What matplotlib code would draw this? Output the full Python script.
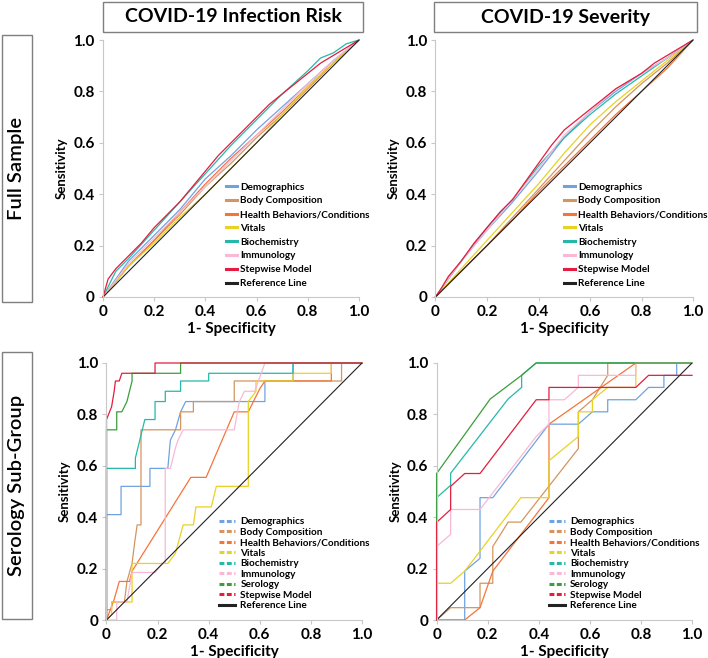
import matplotlib
matplotlib.use("Agg")
import matplotlib.pyplot as plt
from matplotlib.lines import Line2D
from matplotlib.patches import Rectangle

plt.rcParams['font.family'] = ['Lato', 'DejaVu Sans']

colors = {"Demographics": "#6fa3e0", "Body Composition": "#d4955e",
          "Health Behaviors/Conditions": "#f5743a", "Vitals": "#e8d224",
          "Biochemistry": "#25b8a8", "Immunology": "#f9b8d6", "Serology": "#3a9e3a",
          "Stepwise Model": "#e51c3f", "Reference Line": "#222222"}

# ---- Full sample, infection risk ----
inf_full = {
    "Demographics": ([0, 0.1, 0.2, 0.3, 0.4, 0.5, 0.6, 0.7, 0.8, 0.9, 1.0],
                     [0, 0.14, 0.24, 0.34, 0.46, 0.55, 0.65, 0.74, 0.83, 0.92, 1.0]),
    "Body Composition": ([0, 0.1, 0.2, 0.3, 0.4, 0.5, 0.6, 0.7, 0.8, 0.9, 1.0],
                         [0, 0.12, 0.22, 0.32, 0.43, 0.52, 0.62, 0.71, 0.81, 0.91, 1.0]),
    "Health Behaviors/Conditions": ([0, 0.1, 0.2, 0.3, 0.4, 0.5, 0.6, 0.7, 0.8, 0.9, 1.0],
                                    [0, 0.12, 0.22, 0.33, 0.44, 0.54, 0.63, 0.72, 0.82, 0.91, 1.0]),
    "Vitals": ([0, 0.1, 0.2, 0.3, 0.4, 0.5, 0.6, 0.7, 0.8, 0.9, 1.0],
               [0, 0.12, 0.21, 0.31, 0.40, 0.50, 0.60, 0.71, 0.82, 0.91, 1.0]),
    "Biochemistry": ([0, 0.05, 0.1, 0.2, 0.3, 0.4, 0.5, 0.6, 0.7, 0.8, 0.85, 0.9, 0.95, 1.0],
                     [0, 0.10, 0.15, 0.26, 0.37, 0.48, 0.59, 0.69, 0.79, 0.88, 0.93, 0.95, 0.985, 1.0]),
    "Immunology": ([0, 0.1, 0.2, 0.3, 0.4, 0.5, 0.6, 0.7, 0.8, 0.9, 1.0],
                   [0, 0.13, 0.23, 0.33, 0.43, 0.53, 0.63, 0.73, 0.83, 0.92, 1.0]),
    "Stepwise Model": ([0, 0.02, 0.05, 0.1, 0.15, 0.2, 0.25, 0.3, 0.35, 0.4, 0.45, 0.5, 0.55,
                        0.6, 0.65, 0.7, 0.75, 0.8, 0.85, 0.9, 0.95, 1.0],
                       [0, 0.07, 0.11, 0.16, 0.21, 0.27, 0.32, 0.37, 0.43, 0.49, 0.55, 0.60, 0.65,
                        0.70, 0.75, 0.79, 0.83, 0.87, 0.91, 0.94, 0.97, 1.0]),
}

# ---- Full sample, severity ----
sev_full = {
    "Demographics": ([0, 0.1, 0.2, 0.3, 0.4, 0.5, 0.6, 0.7, 0.8, 0.9, 1.0],
                     [0, 0.14, 0.26, 0.37, 0.49, 0.62, 0.72, 0.80, 0.87, 0.93, 1.0]),
    "Body Composition": ([0, 0.1, 0.2, 0.3, 0.4, 0.5, 0.6, 0.7, 0.8, 0.9, 1.0],
                         [0, 0.10, 0.20, 0.31, 0.42, 0.53, 0.64, 0.74, 0.83, 0.91, 1.0]),
    "Health Behaviors/Conditions": ([0, 0.1, 0.2, 0.3, 0.4, 0.5, 0.6, 0.7, 0.8, 0.9, 1.0],
                                    [0, 0.10, 0.20, 0.30, 0.41, 0.51, 0.61, 0.71, 0.80, 0.89, 1.0]),
    "Vitals": ([0, 0.1, 0.2, 0.3, 0.4, 0.5, 0.6, 0.7, 0.8, 0.9, 1.0],
               [0, 0.11, 0.22, 0.33, 0.44, 0.56, 0.67, 0.76, 0.84, 0.92, 1.0]),
    "Biochemistry": ([0, 0.1, 0.2, 0.3, 0.4, 0.5, 0.6, 0.7, 0.8, 0.9, 1.0],
                     [0, 0.14, 0.27, 0.38, 0.51, 0.62, 0.71, 0.79, 0.86, 0.93, 1.0]),
    "Immunology": ([0, 0.1, 0.2, 0.3, 0.4, 0.5, 0.6, 0.7, 0.8, 0.9, 1.0],
                   [0, 0.14, 0.26, 0.38, 0.50, 0.63, 0.72, 0.81, 0.87, 0.93, 1.0]),
    "Stepwise Model": ([0, 0.02, 0.05, 0.1, 0.15, 0.2, 0.25, 0.3, 0.35, 0.4, 0.45, 0.5, 0.55,
                        0.6, 0.65, 0.7, 0.75, 0.8, 0.85, 0.9, 0.95, 1.0],
                       [0, 0.03, 0.08, 0.14, 0.21, 0.27, 0.33, 0.38, 0.45, 0.52, 0.59, 0.65, 0.69,
                        0.73, 0.77, 0.81, 0.84, 0.87, 0.91, 0.94, 0.97, 1.0]),
}

# ---- Serology sub-group, infection risk ----
inf_sero = {
    "Demographics": ([0, 0, 0.057, 0.057, 0.17, 0.17, 0.24, 0.25, 0.27, 0.29, 0.31, 0.62, 0.62, 0.73, 0.73, 1.0],
                     [0, 0.41, 0.41, 0.52, 0.52, 0.59, 0.59, 0.70, 0.74, 0.81, 0.85, 0.85, 0.93, 0.93, 1.0, 1.0]),
    "Body Composition": ([0, 0, 0.02, 0.02, 0.07, 0.08, 0.10, 0.11, 0.12, 0.135, 0.135, 0.29, 0.29, 0.34, 0.34,
                          0.5, 0.5, 0.92, 0.92, 1.0],
                         [0, 0.04, 0.04, 0.07, 0.07, 0.15, 0.22, 0.30, 0.37, 0.37, 0.74, 0.74, 0.81, 0.81, 0.85,
                          0.85, 0.93, 0.93, 1.0, 1.0]),
    "Health Behaviors/Conditions": ([0, 0.03, 0.05, 0.09, 0.10, 0.33, 0.39, 0.5, 0.555, 0.60, 0.62, 0.88, 0.88, 1.0],
                                    [0, 0.08, 0.15, 0.15, 0.19, 0.555, 0.555, 0.81, 0.81, 0.90, 0.93, 0.93, 1.0, 1.0]),
    "Vitals": ([0, 0.02, 0.02, 0.10, 0.10, 0.24, 0.27, 0.30, 0.34, 0.35, 0.41, 0.42, 0.43, 0.555, 0.555,
                0.585, 0.585, 0.73, 0.73, 0.88, 0.88, 1.0],
               [0, 0.02, 0.07, 0.07, 0.22, 0.22, 0.26, 0.37, 0.37, 0.44, 0.44, 0.48, 0.52, 0.52, 0.85,
                0.89, 0.93, 0.93, 0.96, 0.96, 1.0, 1.0]),
    "Biochemistry": ([0, 0, 0.113, 0.113, 0.15, 0.19, 0.19, 0.23, 0.23, 0.29, 0.29, 0.40, 0.40, 0.73, 0.73, 1.0],
                     [0, 0.59, 0.59, 0.63, 0.78, 0.78, 0.85, 0.85, 0.89, 0.89, 0.93, 0.93, 0.96, 0.96, 1.0, 1.0]),
    "Immunology": ([0, 0.04, 0.04, 0.08, 0.10, 0.19, 0.22, 0.23, 0.23, 0.25, 0.26, 0.27, 0.28, 0.30, 0.5,
                    0.52, 0.54, 0.58, 0.62, 1.0],
                   [0, 0, 0.07, 0.07, 0.185, 0.185, 0.22, 0.22, 0.59, 0.59, 0.63, 0.67, 0.70, 0.74, 0.74,
                    0.85, 0.89, 0.89, 1.0, 1.0]),
    "Serology": ([0, 0, 0.04, 0.04, 0.06, 0.08, 0.10, 0.10, 0.29, 0.29, 1.0],
                 [0, 0.74, 0.74, 0.81, 0.81, 0.85, 0.93, 0.96, 0.96, 1.0, 1.0]),
    "Stepwise Model": ([0, 0, 0.02, 0.03, 0.035, 0.05, 0.06, 0.19, 0.19, 1.0],
                       [0, 0.78, 0.83, 0.89, 0.93, 0.93, 0.96, 0.96, 1.0, 1.0]),
}

# ---- Serology sub-group, severity ----
sev_sero = {
    "Demographics": ([0, 0.11, 0.11, 0.17, 0.17, 0.22, 0.44, 0.555, 0.61, 0.67, 0.67, 0.78, 0.83, 0.89, 0.89,
                      0.94, 0.94, 1.0],
                     [0, 0, 0.19, 0.24, 0.476, 0.476, 0.762, 0.762, 0.81, 0.81, 0.857, 0.857, 0.905, 0.905,
                      0.952, 0.952, 1.0, 1.0]),
    "Body Composition": ([0, 0.055, 0.17, 0.17, 0.22, 0.22, 0.25, 0.28, 0.33, 0.555, 0.555, 0.61, 0.67, 0.67, 1.0],
                         [0, 0.048, 0.048, 0.143, 0.143, 0.286, 0.333, 0.381, 0.381, 0.667, 0.81, 0.857, 0.952,
                          1.0, 1.0]),
    "Health Behaviors/Conditions": ([0, 0.11, 0.17, 0.22, 0.44, 0.44, 0.78, 1.0],
                                    [0, 0, 0.048, 0.19, 0.476, 0.762, 1.0, 1.0]),
    "Vitals": ([0, 0, 0.055, 0.11, 0.33, 0.44, 0.44, 0.555, 0.555, 0.61, 0.61, 0.67, 0.78, 0.78, 1.0],
               [0, 0.143, 0.143, 0.19, 0.476, 0.476, 0.62, 0.714, 0.81, 0.81, 0.857, 0.905, 0.905, 1.0, 1.0]),
    "Biochemistry": ([0, 0, 0.055, 0.055, 0.28, 0.333, 0.333, 0.389, 1.0],
                     [0, 0.476, 0.524, 0.571, 0.86, 0.905, 0.952, 1.0, 1.0]),
    "Immunology": ([0, 0, 0.055, 0.055, 0.17, 0.39, 0.44, 0.44, 0.5, 0.555, 0.555, 0.78, 0.78, 1.0],
                   [0, 0.286, 0.333, 0.43, 0.43, 0.714, 0.762, 0.857, 0.857, 0.905, 0.952, 0.952, 1.0, 1.0]),
    "Serology": ([0, 0, 0.21, 0.33, 0.39, 1.0],
                 [0, 0.57, 0.86, 0.95, 1.0, 1.0]),
    "Stepwise Model": ([0, 0, 0.055, 0.055, 0.11, 0.17, 0.39, 0.44, 0.44, 0.78, 0.83, 1.0],
                       [0, 0.38, 0.43, 0.52, 0.57, 0.57, 0.857, 0.857, 0.905, 0.905, 0.952, 0.952]),
}

ref_x = [0, 1]
ref_y = [0, 1]
ticks = [0, 0.2, 0.4, 0.6, 0.8, 1.0]
tick_labels = ["0", "0.2", "0.4", "0.6", "0.8", "1.0"]

W, H = 708, 658
fig = plt.figure(figsize=(W / 100, H / 100), dpi=100)


def px_axes(l, t, r, b):
    return fig.add_axes([l / W, 1 - b / H, (r - l) / W, (b - t) / H])


def style(ax):
    ax.set_xlim(0, 1)
    ax.set_ylim(0, 1)
    ax.set_xticks(ticks)
    ax.set_xticklabels(tick_labels)
    ax.set_yticks(ticks)
    ax.set_yticklabels(tick_labels)
    for s in ["top", "right"]:
        ax.spines[s].set_visible(False)
    for s in ["left", "bottom"]:
        ax.spines[s].set_color("#c8c8c8")
        ax.spines[s].set_linewidth(0.8)
    ax.tick_params(length=3, width=0.8, color="#c8c8c8", labelsize=11, pad=3)
    for lab in ax.get_xticklabels() + ax.get_yticklabels():
        lab.set_fontweight("bold")
    ax.set_ylabel("Sensitivity", fontsize=9.5, fontweight="bold", labelpad=4)
    ax.set_xlabel("1- Specificity", fontsize=11, fontweight="bold", labelpad=2)


def draw(ax, data, dashed, leg_anchor, fs, spacing, hlen, hpad):
    for name, (xs, ys) in data.items():
        ax.plot(xs, ys, color=colors[name], lw=0.9, clip_on=False)
    ax.plot(ref_x, ref_y, color=colors["Reference Line"], lw=0.8)
    handles = []
    for name in list(data.keys()) + ["Reference Line"]:
        if dashed and name != "Reference Line":
            h = Line2D([], [], color=colors[name], lw=2.2, linestyle=(0, (1.6, 0.8)))
        else:
            h = Line2D([], [], color=colors[name], lw=2.2)
        handles.append((h, name))
    leg = ax.legend([h for h, _ in handles], [n for _, n in handles], loc="upper left",
                    bbox_to_anchor=(leg_anchor[0] / W, 1 - leg_anchor[1] / H),
                    bbox_transform=fig.transFigure, frameon=False, fontsize=fs,
                    labelspacing=spacing, handlelength=hlen, handletextpad=hpad,
                    borderpad=0, borderaxespad=0)
    for t in leg.get_texts():
        t.set_fontweight("bold")
    style(ax)


ax1 = px_axes(103, 40, 359, 297)
draw(ax1, inf_full, False, (226, 182.5), 7.2, 0.48, 1.1, 0.35)
ax2 = px_axes(435.5, 40, 693, 297)
draw(ax2, sev_full, False, (564, 182.5), 7.2, 0.48, 1.1, 0.35)
ax3 = px_axes(106.5, 363, 362, 620)
draw(ax3, inf_sero, True, (219, 517.5), 7.2, 0.145, 1.6, 0.55)
ax4 = px_axes(436.6, 363, 692, 620)
draw(ax4, sev_sero, True, (548.5, 517.5), 7.2, 0.145, 1.6, 0.55)


def box(l, t, r, b, text, rot, fs, weight):
    fig.add_artist(Rectangle((l / W, 1 - b / H), (r - l) / W, (b - t) / H,
                             transform=fig.transFigure, fill=False,
                             edgecolor="#7f7f7f", lw=1.0))
    fig.text((l + r) / 2 / W, 1 - (t + b) / 2 / H, text, rotation=rot, ha="center",
             va="center", fontsize=fs, fontweight=weight)


box(103, 2, 363, 32, "COVID-19 Infection Risk", 0, 14, "bold")
box(434, 2, 697, 32, "COVID-19 Severity", 0, 14, "bold")
box(2, 35, 32, 302, "Full Sample", 90, 14.5, "semibold")
box(2, 352, 32, 619, "Serology Sub-Group", 90, 14.5, "semibold")

fig.savefig("out.png", dpi=100)
